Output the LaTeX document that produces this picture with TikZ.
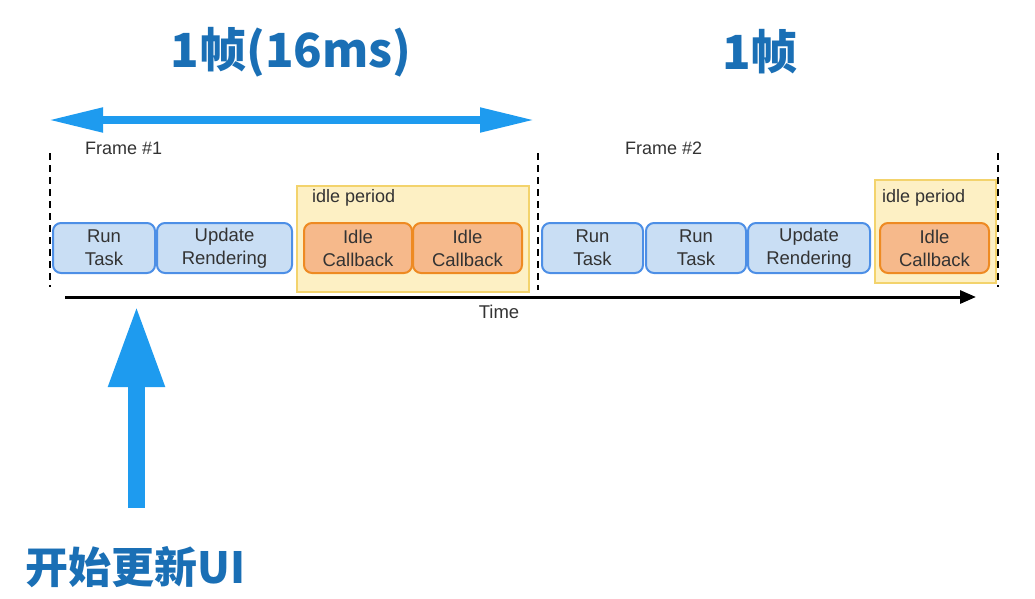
\documentclass[tikz,border=0pt]{standalone}
\usepackage{fontspec}
\setmainfont{Liberation Sans}
\newfontfamily\cjk{Noto Sans CJK SC}
\usetikzlibrary{arrows.meta}
\definecolor{titleblue}{HTML}{1A6FB5}
\definecolor{arrowblue}{HTML}{1E9BEF}
\definecolor{boxfill}{HTML}{C9DEF4}
\definecolor{boxline}{HTML}{4D8FE6}
\definecolor{orfill}{HTML}{F6B98B}
\definecolor{orline}{HTML}{EE8A22}
\definecolor{idlefill}{HTML}{FDF0C4}
\definecolor{idleline}{HTML}{F3D36C}
\definecolor{txt}{HTML}{333333}
\tikzset{
  taskbox/.style={draw=boxline, fill=boxfill, line width=2, rounded corners=8, minimum height=50, align=center, font=\fontsize{18.5}{23}\selectfont, text=txt, inner sep=0},
  cbbox/.style={taskbox, draw=orline, fill=orfill},
  idlebg/.style={draw=idleline, fill=idlefill, line width=1.5, inner sep=0},
  smalllabel/.style={font=\fontsize{18}{21}\selectfont, text=txt, anchor=west, inner sep=0},
  framesep/.style={line width=2.5, dash pattern=on 7 off 5},
  title/.style={font=\cjk\bfseries\fontsize{47}{56}\selectfont, text=titleblue, inner sep=0}
}
\begin{document}
\begin{tikzpicture}[x=1pt,y=-1pt]
\useasboundingbox (0,0) rectangle (1035,598);
% titles
\node[title] (t1) at (291,52) {1帧(16ms)};
\node[title] (t2) at (760,52) {1帧};
% frame span arrow
\coordinate (fa) at (48,120);
\coordinate (fb) at (535,120);
\draw[arrowblue, line width=8, {Triangle[length=55pt,width=23pt]}-{Triangle[length=55pt,width=23pt]}] (fa) -- (fb);
% separators
\coordinate (s1a) at (50,153); \coordinate (s1b) at (50,287);
\coordinate (s2a) at (538,153); \coordinate (s2b) at (538,290);
\coordinate (s3a) at (998,153); \coordinate (s3b) at (998,287);
\draw[framesep] (s1a) -- (s1b);
\draw[framesep] (s2a) -- (s2b);
\draw[framesep] (s3a) -- (s3b);
% frame labels
\node[smalllabel] (f1) at (85,148) {Frame \#1};
\node[smalllabel] (f2) at (625,148) {Frame \#2};
% idle periods
\node[idlebg, minimum width=232, minimum height=106] (ip1) at (413,239) {};
\node[idlebg, minimum width=121, minimum height=103] (ip2) at (935.5,231.5) {};
\node[smalllabel] (ipl1) at (312,198) {idle period};
\node[smalllabel] (ipl2) at (882,198) {idle period};
% frame 1 boxes
\node[taskbox, minimum width=102] (r1) at (104,248) {Run\\Task};
\node[taskbox, minimum width=135] (u1) at (224.5,248) {Update\\Rendering};
\node[cbbox, minimum width=108] (c1) at (358,248) {Idle\\Callback};
\node[cbbox, minimum width=109] (c2) at (467.5,248) {Idle\\Callback};
% frame 2 boxes
\node[taskbox, minimum width=101] (r2) at (592.5,248) {Run\\Task};
\node[taskbox, minimum width=100] (r3) at (696,248) {Run\\Task};
\node[taskbox, minimum width=122] (u2) at (809,248) {Update\\Rendering};
\node[cbbox, minimum width=109] (c3) at (934.5,248) {Idle\\Callback};
% time axis
\coordinate (ta) at (65,297);
\coordinate (tb) at (976,297);
\draw[black, line width=3, -{Triangle[length=16pt,width=13pt]}] (ta) -- (tb);
\node[font=\fontsize{18.5}{21}\selectfont, text=txt, inner sep=0] (time) at (499,312) {Time};
% start update arrow
\node[font=\cjk\bfseries\fontsize{43}{52}\selectfont, text=titleblue, anchor=west, inner sep=0] (start) at (25,567) {开始更新UI};
\coordinate (ua) at (136.5,508);
\coordinate (ub) at (136.5,305);
\draw[arrowblue, line width=17, -{Triangle[length=82pt,width=52pt]}] (ua) -- (ub);
\end{tikzpicture}
\end{document}
